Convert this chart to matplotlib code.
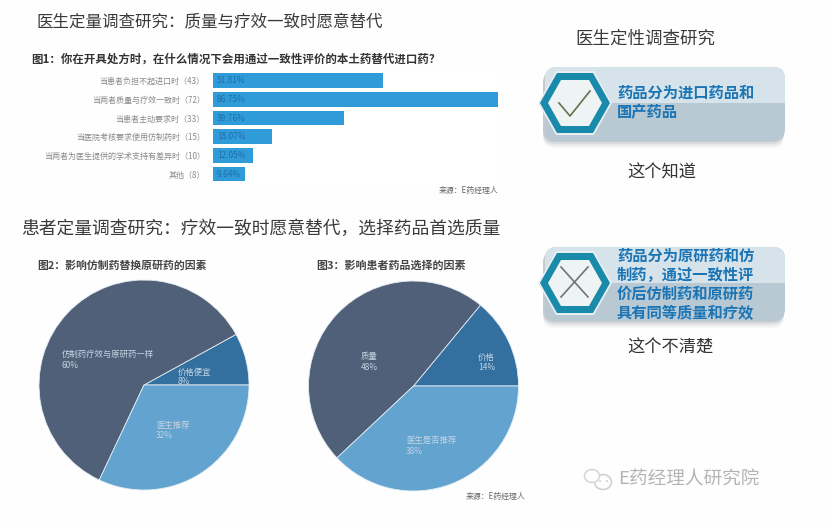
import matplotlib
matplotlib.use('Agg')
import matplotlib.pyplot as plt
from matplotlib.patches import FancyBboxPatch, Polygon, Rectangle, Circle, Ellipse

plt.rcParams['font.family'] = ['Noto Sans CJK SC', 'DejaVu Sans']

# 柱状图数据
bar_labels = ['当患者负担不起进口时（43）', '当两者质量与疗效一致时（72）', '当患者主动要求时（33）',
              '当医院考核要求使用仿制药时（15）', '当两者为医生提供的学术支持有差异时（10）', '其他（8）']
bar_values = [51.81, 86.75, 39.76, 18.07, 12.05, 9.64]

# 饼图数据
pie1_values = [8, 60, 32]
pie2_values = [14, 48, 38]
pie_colors = ['#33709f', '#4f6078', '#62a3d0']

W, H = 831, 528
fig = plt.figure(figsize=(W / 100, H / 100), dpi=100, facecolor='#fefefe')

# 整张图用像素坐标的底层，放文字和右侧面板
bg = fig.add_axes([0, 0, 1, 1])
bg.set_xlim(0, W)
bg.set_ylim(H, 0)
bg.axis('off')


def px_axes(left, top, right, bottom):
    return fig.add_axes([left / W, 1 - bottom / H, (right - left) / W, (bottom - top) / H])


def put(x, y, s, size, color='#333333', ha='left', weight='normal'):
    bg.text(x, y, s, fontsize=size, color=color, ha=ha, va='center', fontweight=weight)


# 标题
put(36, 23, '医生定量调查研究：质量与疗效一致时愿意替代', 11.9, '#3a3a3a')
put(21, 229, '患者定量调查研究：疗效一致时愿意替代，选择药品首选质量', 12.8, '#3a3a3a')
put(645, 39, '医生定性调查研究', 12.6, '#3a3a3a', ha='center')
put(31, 59, '图1：你在开具处方时，在什么情况下会用通过一致性评价的本土药替代进口药？', 8.25, '#333333', weight='bold')
put(37, 266, '图2：影响仿制药替换原研药的因素', 7.8, '#444444', weight='bold')
put(316, 266, '图3：影响患者药品选择的因素', 7.9, '#444444', weight='bold')
put(498, 190, '来源：E药经理人', 5.7, '#666666', ha='right')
put(525, 497, '来源：E药经理人', 5.7, '#666666', ha='right')

# 图1 柱状图
ax = px_axes(213, 71.4, 498, 183.4)
ax.barh(range(len(bar_values)), bar_values, height=0.79, color='#2f9bd8')
ax.set_xlim(0, max(bar_values))
ax.set_ylim(len(bar_values) - 0.5, -0.5)
ax.set_yticks(range(len(bar_labels)))
ax.set_yticklabels(bar_labels, fontsize=5.8, color='#8a8a8a')
ax.tick_params(axis='y', length=0, pad=6)
ax.set_xticks([])
for s in ax.spines.values():
    s.set_visible(False)
for i, v in enumerate(bar_values):
    ax.text(1.2, i, f'{v:.2f}%', fontsize=6, color='#1f6fa8', va='center')


# 饼图
def draw_pie(cx, cy, values):
    a = px_axes(cx - 105, cy - 105, cx + 105, cy + 105)
    a.pie(values, colors=pie_colors, startangle=0, counterclock=True, radius=1,
          wedgeprops={'edgecolor': '#e4ecf2', 'linewidth': 0.6})
    a.set_xlim(-1, 1)
    a.set_ylim(-1, 1)
    a.patch.set_alpha(0)
    return a


pie_axes = [draw_pie(144, 385, pie1_values), draw_pie(413.5, 386, pie2_values)]

# 饼图标签放在最上层
top = fig.add_axes([0, 0, 1, 1])
top.set_xlim(0, W)
top.set_ylim(H, 0)
top.axis('off')
pie_text = '#c6d4e2'
for x, y, s in [(62, 354, '仿制药疗效与原研药一样'), (62, 365, '60%'),
                (178, 372, '价格便宜'), (178, 382, '8%'),
                (156, 425, '医生推荐'), (156, 436, '32%'),
                (361, 357, '质量'), (361, 368, '48%'),
                (478, 357, '价格'), (478, 368, '14%'),
                (406, 440, '医生是否推荐'), (406, 451, '38%')]:
    top.text(x, y, s, fontsize=6, color=pie_text, va='center')


# 右侧面板
def hexagon(cx, cy, rx, ry, inset):
    return [(cx - rx, cy), (cx - rx + inset, cy - ry), (cx + rx - inset, cy - ry),
            (cx + rx, cy), (cx + rx - inset, cy + ry), (cx - rx + inset, cy + ry)]


def panel(cy, lines, line_ys):
    x0, x1 = 545, 785
    y0, y1 = cy - 36, cy + 38
    for k, alpha in zip([7, 5, 3, 1], [0.06, 0.08, 0.1, 0.14]):
        bg.add_patch(FancyBboxPatch((x0 - 2, y0 + 4), x1 - x0 + 1, y1 - y0 + k - 4,
                                    boxstyle='round,pad=0,rounding_size=12',
                                    fc='#5a6770', ec='none', alpha=alpha))
    low = FancyBboxPatch((x0, y0), x1 - x0, y1 - y0, boxstyle='round,pad=0,rounding_size=12',
                         fc='#b8c9d4', ec='none')
    bg.add_patch(low)
    up = FancyBboxPatch((x0, y0), x1 - x0, y1 - y0, boxstyle='round,pad=0,rounding_size=12',
                        fc='#d6e3ea', ec='none')
    bg.add_patch(up)
    up.set_clip_path(Rectangle((x0, y0), x1 - x0, cy - y0, transform=bg.transData))
    # 六边形图标
    bg.add_patch(Polygon(hexagon(575, cy, 37, 32, 18), fc='#e6eef1', ec='none'))
    bg.add_patch(Polygon(hexagon(575, cy, 35, 30, 17), fc='#1a8aab', ec='none'))
    bg.add_patch(Polygon(hexagon(575, cy, 27, 23, 13), fc='#eef3f3', ec='none'))
    for s, y in zip(lines, line_ys):
        put(617, y, s, 11, '#1b75b5', weight='bold')


panel(103, ['药品分为进口药品和', '国产药品'], [93, 112])
bg.plot([559, 570, 590], [103, 116, 91], color='#66704f', lw=1.2)
put(662, 173, '这个知道', 12.4, '#333333', ha='center')

panel(283, ['药品分为原研药和仿', '制药，通过一致性评', '价后仿制药和原研药', '具有同等质量和疗效'],
      [256, 275, 294, 313])
bg.plot([561, 588], [267, 297], color='#6f7477', lw=1.2)
bg.plot([588, 561], [267, 297], color='#6f7477', lw=1.2)
put(670, 348, '这个不清楚', 12.4, '#333333', ha='center')

# 水印
bg.add_patch(Ellipse((603, 482), 17, 15, fc='none', ec='#d0d0d0', lw=1.2))
bg.add_patch(Ellipse((592, 476), 15, 13, fc='#fefefe', ec='#d8d8d8', lw=1.2))
for x, y in [(600, 481), (607, 481)]:
    bg.add_patch(Circle((x, y), 0.9, fc='#c8c8c8', ec='none'))
put(618, 480, 'E药经理人研究院', 13.4, '#b4b4b4')

fig.savefig('out.png', dpi=100, facecolor=fig.get_facecolor())
